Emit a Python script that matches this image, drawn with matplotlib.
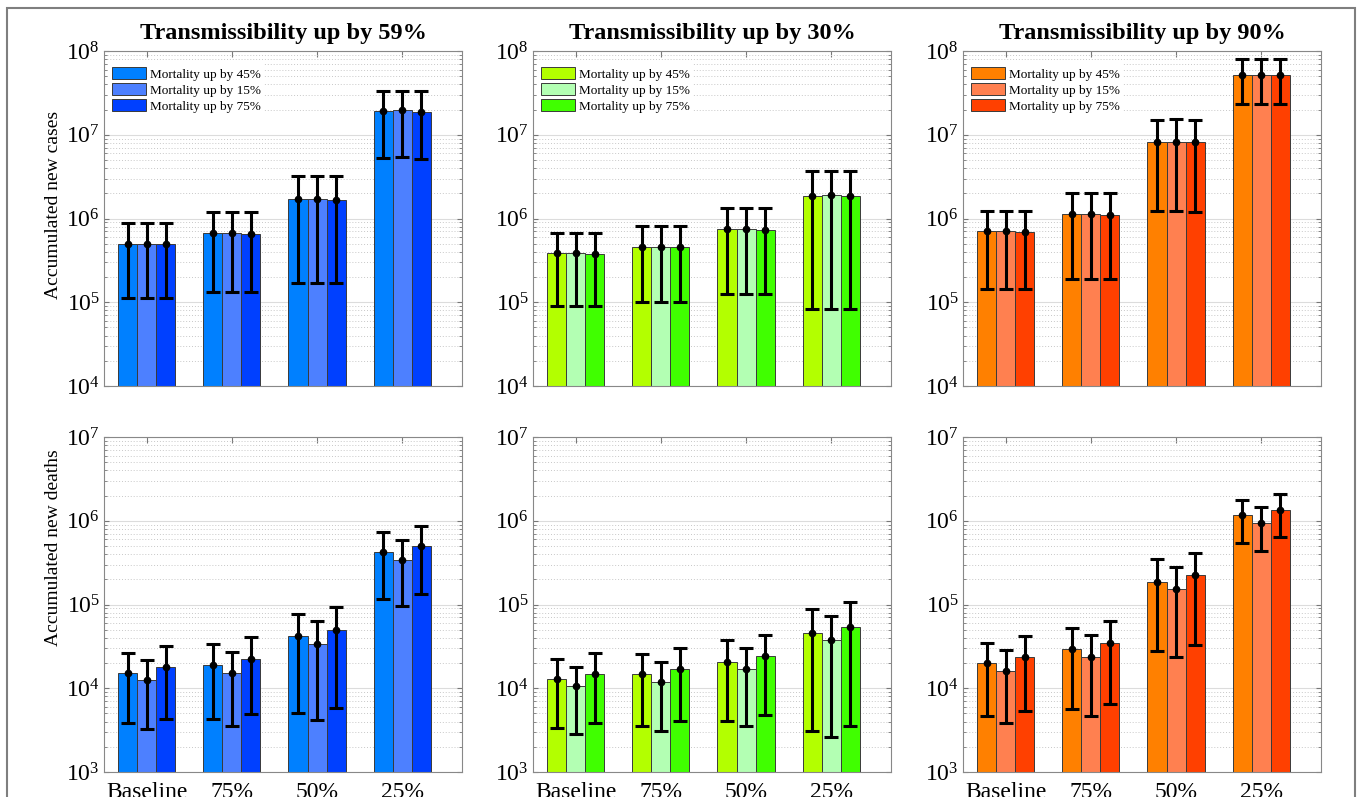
import numpy as np
import matplotlib
matplotlib.use('Agg')
from matplotlib import pyplot as plt
from matplotlib.patches import Rectangle
from matplotlib.ticker import LogLocator, NullFormatter

plt.rcParams['font.family'] = ['Liberation Serif', 'DejaVu Serif']
plt.rcParams['mathtext.fontset'] = 'stix'

scenarios = ['Baseline', '75%', '50%', '25%']
mortality = ['Mortality up by 45%', 'Mortality up by 15%', 'Mortality up by 75%']
titles = ['Transmissibility up by 59%', 'Transmissibility up by 30%', 'Transmissibility up by 90%']

# accumulated new cases, rows = mortality up by 45 / 15 / 75 %
cases59 = [[5.0e5, 6.7e5, 1.70e6, 1.90e7], [5.0e5, 6.7e5, 1.71e6, 1.95e7], [4.95e5, 6.6e5, 1.68e6, 1.87e7]]
cases59_lo = [[1.12e5, 1.32e5, 1.72e5, 5.3e6], [1.12e5, 1.32e5, 1.72e5, 5.4e6], [1.12e5, 1.32e5, 1.72e5, 5.2e6]]
cases59_hi = [[8.8e5, 1.2e6, 3.2e6, 3.3e7], [8.8e5, 1.2e6, 3.25e6, 3.35e7], [8.8e5, 1.2e6, 3.2e6, 3.3e7]]

cases30 = [[3.85e5, 4.6e5, 7.4e5, 1.88e6], [3.87e5, 4.62e5, 7.45e5, 1.9e6], [3.82e5, 4.57e5, 7.35e5, 1.86e6]]
cases30_lo = [[8.96e4, 1.0e5, 1.26e5, 8.3e4], [8.96e4, 1.0e5, 1.26e5, 8.2e4], [8.96e4, 1.0e5, 1.26e5, 8.3e4]]
cases30_hi = [[6.7e5, 8.2e5, 1.35e6, 3.7e6], [6.7e5, 8.2e5, 1.35e6, 3.7e6], [6.7e5, 8.2e5, 1.35e6, 3.65e6]]

cases90 = [[7.0e5, 1.12e6, 8.2e6, 5.15e7], [7.05e5, 1.13e6, 8.3e6, 5.2e7], [6.95e5, 1.11e6, 8.15e6, 5.1e7]]
cases90_lo = [[1.44e5, 1.9e5, 1.22e6, 2.32e7], [1.44e5, 1.9e5, 1.24e6, 2.32e7], [1.44e5, 1.9e5, 1.2e6, 2.3e7]]
cases90_hi = [[1.23e6, 2.02e6, 1.51e7, 8.0e7], [1.23e6, 2.02e6, 1.53e7, 8.0e7], [1.23e6, 2.0e6, 1.5e7, 8.0e7]]

# accumulated new deaths
deaths59 = [[1.52e4, 1.9e4, 4.19e4, 4.2e5], [1.25e4, 1.54e4, 3.39e4, 3.42e5], [1.8e4, 2.24e4, 4.94e4, 4.98e5]]
deaths59_lo = [[3.8e3, 4.27e3, 5.0e3, 1.17e5], [3.24e3, 3.55e3, 4.2e3, 9.5e4], [4.3e3, 4.9e3, 5.8e3, 1.35e5]]
deaths59_hi = [[2.67e4, 3.39e4, 7.8e4, 7.3e5], [2.16e4, 2.74e4, 6.4e4, 5.9e5], [3.2e4, 4.04e4, 9.3e4, 8.7e5]]

deaths30 = [[1.28e4, 1.46e4, 2.06e4, 4.6e4], [1.05e4, 1.19e4, 1.69e4, 3.78e4], [1.5e4, 1.7e4, 2.45e4, 5.4e4]]
deaths30_lo = [[3.36e3, 3.58e3, 4.1e3, 3.09e3], [2.87e3, 3.06e3, 3.5e3, 2.6e3], [3.86e3, 4.1e3, 4.8e3, 3.5e3]]
deaths30_hi = [[2.22e4, 2.55e4, 3.75e4, 8.9e4], [1.8e4, 2.05e4, 3.0e4, 7.2e4], [2.6e4, 3.0e4, 4.3e4, 1.06e5]]

deaths90 = [[1.99e4, 2.93e4, 1.87e5, 1.16e6], [1.61e4, 2.37e4, 1.52e5, 9.4e5], [2.35e4, 3.45e4, 2.22e5, 1.36e6]]
deaths90_lo = [[4.6e3, 5.6e3, 2.82e4, 5.36e5], [3.86e3, 4.7e3, 2.35e4, 4.34e5], [5.3e3, 6.5e3, 3.27e4, 6.4e5]]
deaths90_hi = [[3.5e4, 5.26e4, 3.45e5, 1.78e6], [2.85e4, 4.3e4, 2.82e5, 1.44e6], [4.15e4, 6.3e4, 4.07e5, 2.1e6]]

colors = [['#0080ff', '#4d80ff', '#0040ff'],
          ['#b3ff00', '#b3ffb3', '#40ff00'],
          ['#ff8000', '#ff8050', '#ff4000']]

top_row = [(cases59, cases59_lo, cases59_hi), (cases30, cases30_lo, cases30_hi), (cases90, cases90_lo, cases90_hi)]
bottom_row = [(deaths59, deaths59_lo, deaths59_hi), (deaths30, deaths30_lo, deaths30_hi), (deaths90, deaths90_lo, deaths90_hi)]

W, H = 1357, 797
fig = plt.figure(figsize=(W / 100, H / 100), dpi=100)

col_px = [(104, 462), (533, 891), (963, 1321)]
row_px = [(51, 386), (437, 772)]

x = np.arange(1, len(scenarios) + 1)
bw = 0.224

rows = [(top_row, (1e4, 1e8), 'Accumulated new cases', 0.54),
        (bottom_row, (1e3, 1e7), 'Accumulated new deaths', 0.67)]

for r, (rowdata, ylim, ylab, ylab_y) in enumerate(rows):
    for c in range(3):
        l, rr = col_px[c]
        t, b = row_px[r]
        ax = fig.add_axes([l / W, 1 - b / H, (rr - l) / W, (b - t) / H])
        mean, lo, hi = rowdata[c]
        for k in range(3):
            m = np.array(mean[k])
            xs = x + (k - 1) * bw
            ax.bar(xs, m, width=bw, color=colors[c][k], edgecolor='#3a3a3a', linewidth=0.7,
                   label=mortality[k], zorder=2)
            yerr = [m - np.array(lo[k]), np.array(hi[k]) - m]
            ax.errorbar(xs, m, yerr=yerr, fmt='o', color='k', ms=4.5, elinewidth=2.2,
                        capsize=5, capthick=2.2, zorder=3)
        ax.set_yscale('log')
        ax.set_ylim(*ylim)
        ax.set_xlim(0.5, 4.7)
        ax.set_xticks(x)
        if r == 1:
            ax.set_xticklabels(scenarios, fontsize=17)
        else:
            ax.set_xticklabels([])
        ax.yaxis.set_major_locator(LogLocator(base=10, numticks=10))
        ax.yaxis.set_minor_locator(LogLocator(base=10, subs=np.arange(2, 10), numticks=20))
        ax.yaxis.set_minor_formatter(NullFormatter())
        ax.tick_params(axis='y', labelsize=17, pad=3)
        ax.tick_params(direction='in', top=True, right=True, which='both', color='#777777')
        ax.tick_params(axis='x', length=4, pad=7)
        ax.yaxis.grid(True, which='major', color='#dcdcdc', lw=0.8, ls='-', zorder=0)
        ax.yaxis.grid(True, which='minor', color='#c8c8c8', lw=0.7, ls=(0, (1, 2)), zorder=0)
        ax.set_axisbelow(True)
        for s in ax.spines.values():
            s.set_color('#888888')
        if r == 0:
            ax.set_title(titles[c], fontsize=17.5, fontweight='bold', pad=9)
            ax.legend(loc='upper left', bbox_to_anchor=(0.0, 0.975), fontsize=9.5, frameon=True,
                      facecolor='white', edgecolor='none', fancybox=False, framealpha=1,
                      handlelength=2.6, handleheight=1.0, labelspacing=0.2, handletextpad=0.25,
                      borderaxespad=0.3, borderpad=0.3)
        if c == 0:
            ax.set_ylabel(ylab, fontsize=14)
            ax.yaxis.set_label_coords(-0.117, ylab_y)

fig.patches.append(Rectangle((7 / W, -0.1), (1355 - 7) / W, 1.1 - 8 / H, transform=fig.transFigure,
                             fill=False, edgecolor='#7f7f7f', lw=1.5))

fig.savefig('out.png', dpi=100)
